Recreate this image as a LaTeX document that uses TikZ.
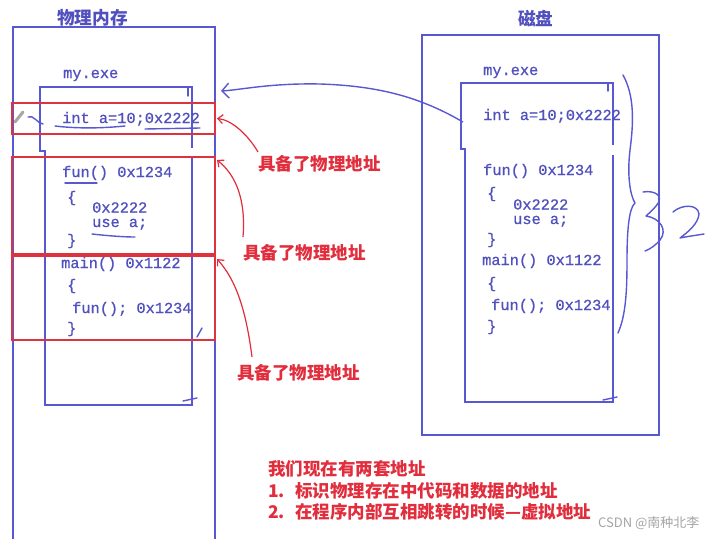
\documentclass[tikz,border=0pt]{standalone}
\usepackage{fontspec}
\usetikzlibrary{arrows.meta}
\newfontfamily\cjk{Noto Sans CJK SC}
\newfontfamily\codefont{Liberation Mono}[FakeBold=0.8]
\definecolor{codeblue}{RGB}{80,80,190}
\definecolor{penblue}{RGB}{88,88,210}
\definecolor{labred}{RGB}{225,45,60}
\definecolor{boxred}{RGB}{222,50,62}
\definecolor{wmgray}{RGB}{165,165,165}
\tikzset{
  code/.style={font=\codefont\fontsize{15.3}{16}\selectfont, text=codeblue, inner sep=0pt, anchor=base west},
  title/.style={font=\cjk\bfseries\fontsize{17.7}{18}\selectfont, text=codeblue, inner sep=0pt, anchor=base west},
  lab/.style={font=\cjk\bfseries\fontsize{17.5}{18}\selectfont, text=labred, inner sep=0pt, anchor=base west},
  bluebox/.style={draw=penblue, line width=2.3pt},
  thinbox/.style={draw=penblue, line width=2pt},
  redbox/.style={draw=boxred, line width=2.6pt, inner sep=0pt, outer sep=0pt, rectangle},
  redarrow/.style={draw=labred, line width=1.2pt, -{Straight Barb[length=5pt,width=9pt]}},
  bluearrow/.style={draw=penblue, line width=1.4pt, -{Straight Barb[length=7pt,width=15pt]}},
  hand/.style={draw=penblue, line width=1.4pt, line cap=round, line join=round},
}
\begin{document}
\begin{tikzpicture}[x=1pt,y=-1pt]
\useasboundingbox (0,0) rectangle (708,538);
\fill[white] (0,0) rectangle (708,538);

% ---------- left: physical memory ----------
\draw[bluebox] (13,540) -- (13,27) -- (215,27) -- (215,540);
\draw[thinbox] (192,148) -- (192,87) -- (40,87) -- (40,151) -- (45,151) -- (45,405) -- (192,405) -- (192,157);
\draw[hand] (188,88) -- (188,96);
\draw[hand] (183,401) -- (197,398);
\draw[hand] (197,337) -- (202,328);

\node[title] (t1) at (57,24) {物理内存};

\node[code] (l0) at (63,78) {my.exe};
\node[code] (l1) at (62,123) {int a=10;0x2222};
\node[code] (l2) at (62,177) {fun() 0x1234};
\node[code] (l3) at (67,202) {\{};
\node[code, text depth=0pt] (l4) at (92,212.5) {0x2222};
\node[code, text height=7pt] (l5) at (92,227) {use a;};
\node[code] (l6) at (67,245) {\}};
\node[code] (l7) at (61,268) {main() 0x1122};
\node[code] (l8) at (67,290) {\{};
\node[code] (l9) at (72,313) {fun(); 0x1234};
\node[code] (l10) at (67,333) {\}};

% hand underlines
\draw[hand] (55,126) .. controls (80,129) and (105,128) .. (125,126);
\draw[hand] (145,129) -- (200,128);
\draw[hand] (65,183) -- (97,183);
\draw[hand] (92,234) .. controls (110,236) and (125,237) .. (135,237);
% pencil mark and stroke
\draw[line width=3pt, gray!70, line cap=round] (15,122) -- (23,112);
\draw[hand] (28,117) .. controls (33,114) and (38,124) .. (43,124);

% red boxes
\node[redbox, minimum width=203pt, minimum height=31pt] (r1) at (113.5,118.5) {};
\node[redbox, minimum width=203pt, minimum height=97pt] (r2) at (113.5,205.5) {};
\node[redbox, minimum width=203pt, minimum height=84pt] (r3) at (113.5,298) {};

% red labels
\node[lab] (lab1) at (258,170) {具备了物理地址};
\node[lab] (lab2) at (243,259.5) {具备了物理地址};
\node[lab] (lab3) at (237,379) {具备了物理地址};

\coordinate (a1s) at (258,152);
\coordinate (a2s) at (243,237);
\coordinate (a3s) at (252,357);
\draw[redarrow] (a1s) .. controls (248,135) and (232,120) .. ([xshift=2pt]r1.east);
\draw[redarrow] (a2s) .. controls (246,200) and (236,175) .. ([xshift=2pt,yshift=-3pt]r2.north east);
\draw[redarrow] (a3s) .. controls (246,310) and (236,280) .. ([xshift=2pt,yshift=-3pt]r3.north east);

% ---------- right: disk ----------
\node[title] (t2) at (518,25) {磁盘};
\draw[bluebox] (422,35) rectangle (659,435);
\draw[thinbox] (613,145) -- (613,83) -- (461,83) -- (461,149) -- (465,149) -- (465,402) -- (613,402) -- (613,155);
\draw[hand] (608,84) -- (608,91);
\draw[hand] (603,400) -- (617,397);

\node[code] (d0) at (483,75) {my.exe};
\node[code] (d1) at (483,120) {int a=10;0x2222};
\node[code] (d2) at (483,175) {fun() 0x1234};
\node[code] (d3) at (487,198) {\{};
\node[code, text depth=0pt] (d4) at (513,209.5) {0x2222};
\node[code, text height=7pt] (d5) at (513,224) {use a;};
\node[code] (d6) at (487,244) {\}};
\node[code] (d7) at (482,265) {main() 0x1122};
\node[code] (d8) at (487,288) {\{};
\node[code] (d9) at (491,310) {fun(); 0x1234};
\node[code] (d10) at (487,331) {\}};

% hand brace and "32"
\draw[hand] (623,75) .. controls (634,95) and (634,120) .. (630,150)
  .. controls (627,175) and (630,195) .. (635,203)
  .. controls (629,208) and (627,230) .. (627,260)
  .. controls (627,290) and (626,315) .. (618,333);
\draw[hand] (643,192) .. controls (655,190) and (665,196) .. (656,206)
  .. controls (652,211) and (648,214) .. (646,216)
  .. controls (660,218) and (668,230) .. (660,240)
  .. controls (655,246) and (650,249) .. (645,251);
\draw[hand] (673,212) .. controls (682,204) and (698,204) .. (699,214)
  .. controls (698,224) and (688,232) .. (680,238)
  .. controls (690,236) and (698,235) .. (704,234);

% blue arrow from disk to memory
\coordinate (bs) at (463,122);
\coordinate (be) at (221,91);
\draw[bluearrow] (bs) .. controls (425,100) and (385,86) .. (320,84)
  .. controls (270,83) and (240,90) .. (be);

% ---------- bottom note ----------
\node[lab] (n1) at (268,475) {我们现在有两套地址};
\node[lab] (n2a) at (268,497.5) {1.};
\node[lab] (n2b) at (295,497.5) {标识物理存在中代码和数据的地址};
\node[lab] (n3a) at (268,518.5) {2.};
\node[lab] (n3b) at (295,518.5) {在程序内部互相跳转的时候—虚拟地址};

\node[font=\cjk\fontsize{13}{13}\selectfont, text=wmgray, inner sep=0pt, anchor=base west] (wm) at (598,527) {CSDN @南种北李};
\end{tikzpicture}
\end{document}
